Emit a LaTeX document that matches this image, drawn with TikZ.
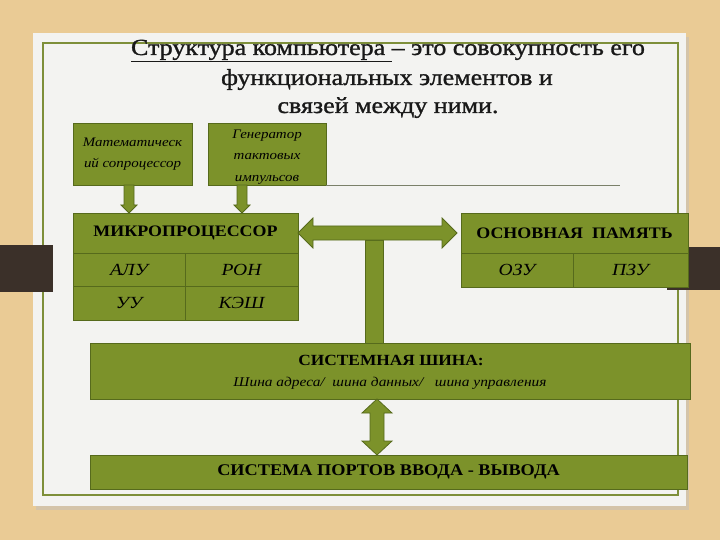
\documentclass[tikz,border=0pt]{standalone}
\usepackage{fontspec}
\setmainfont{Liberation Serif}
\newfontfamily\tfont[FakeStretch=1.12]{Liberation Serif}
\newfontfamily\ttlfont[FakeStretch=1.13, FakeBold=1.2]{Liberation Serif}
\newfontfamily\ifont[FakeStretch=1.15]{Liberation Serif}
\usetikzlibrary{calc}
\definecolor{wood}{HTML}{EACB95}
\definecolor{panel}{HTML}{F3F3F1}
\definecolor{frame}{HTML}{7E8F3A}
\definecolor{boxfill}{HTML}{7C922A}
\definecolor{boxline}{HTML}{566A1C}
\definecolor{darkbar}{HTML}{3B3029}
\definecolor{thinl}{HTML}{7A806A}
\tikzset{
  box/.style={draw=boxline, fill=boxfill, line width=0.8pt, inner sep=0pt, outer sep=0pt, anchor=north west, text=black},
  hdr/.style={font=\tfont\bfseries\fontsize{16}{18}\selectfont},
  cell/.style={font=\ifont\itshape\fontsize{17}{18}\selectfont},
  small/.style={font=\ifont\itshape\fontsize{13}{21.5}\selectfont, align=center},
  arr/.style={draw=boxline, fill=boxfill, line width=0.8pt, line join=miter},
  ttl/.style={font=\ttlfont\fontsize{23}{25}\selectfont, text=black!90, anchor=base}
}
\begin{document}
\begin{tikzpicture}[x=1pt,y=-1pt]
\useasboundingbox (0,0) rectangle (720,540);
% background and slide
\fill[wood] (0,0) rectangle (720,540);
\fill[black!25, opacity=0.5] (36,37) rectangle (689,510);
\fill[panel] (33,33) rectangle (686,506);
\draw[frame, line width=1.3pt] (43,43) rectangle (678,495);
\fill[darkbar] (0,245) rectangle (53,292);
\fill[darkbar] (667,247) rectangle (720,290);
% title
\node[ttl] (t1) at (388,55) {\underline{Структура компьютера\ }– это совокупность его};
\node[ttl] (t2) at (387,85) {функциональных элементов и};
\node[ttl] (t3) at (388,113) {связей между ними.};
% top boxes
\node[box, minimum width=119pt, minimum height=62pt] (math) at (73,123) {};
\node[small] at (math.center) {Математическ\\ий сопроцессор};
\node[box, minimum width=118pt, minimum height=62pt] (gen) at (208,123) {};
\node[small] at ($(gen.center)+(0,3)$) {Генератор\\тактовых\\импульсов};
\coordinate (lineend) at (620,185);
\draw[thinl, line width=0.7pt] (gen.south east) -- (lineend);
% microprocessor
\node[box, minimum width=225pt, minimum height=40pt, hdr] (mph) at (73,213) {МИКРОПРОЦЕССОР};
\node[box, minimum width=112pt, minimum height=33pt, cell] (alu) at (73,253) {АЛУ};
\node[box, minimum width=113pt, minimum height=33pt, cell] (ron) at (185,253) {РОН};
\node[box, minimum width=112pt, minimum height=34pt, cell] (uu) at (73,286) {УУ};
\node[box, minimum width=113pt, minimum height=34pt, cell] (kesh) at (185,286) {КЭШ};
% memory
\node[box, minimum width=227pt, minimum height=40pt, hdr] (memh) at (461,213) {ОСНОВНАЯ\ \ ПАМЯТЬ};
\node[box, minimum width=112pt, minimum height=34pt, cell] (ozu) at (461,253) {ОЗУ};
\node[box, minimum width=115pt, minimum height=34pt, cell] (pzu) at (573,253) {ПЗУ};
% bus and ports
\node[box, minimum width=600pt, minimum height=56pt] (bus) at (90,343) {};
\node[hdr, font=\tfont\bfseries\fontsize{15.5}{17}\selectfont] (bust) at (391,360) {СИСТЕМНАЯ ШИНА:};
\node[cell, font=\ifont\itshape\fontsize{13.4}{15}\selectfont] (busi) at (390,383) {Шина адреса/\ \ шина данных/\ \ \ шина управления};
\node[box, minimum width=597pt, minimum height=34pt, font=\tfont\bfseries\fontsize{16.3}{18}\selectfont] (ports) at (90,455) {СИСТЕМА ПОРТОВ ВВОДА - ВЫВОДА};
% down arrows
\coordinate (ax1) at (129,0);
\coordinate (ax2) at (242,0);
\foreach \c/\s in {ax1/math, ax2/gen}{
  \draw[arr] ($(\s.south -| \c)+(-5,0)$) -- ($(mph.north -| \c)+(-5,-8)$) -- ($(mph.north -| \c)+(-8,-8)$) -- (mph.north -| \c) -- ($(mph.north -| \c)+(8,-8)$) -- ($(mph.north -| \c)+(5,-8)$) -- ($(\s.south -| \c)+(5,0)$) -- cycle;
}
% vertical bar to bus
\coordinate (bx) at (374,0);
\draw[arr] ($(mph.east -| bx)+(-9,7)$) rectangle ($(bus.north -| bx)+(9,0)$);
% horizontal double arrow
\coordinate (R) at ($(memh.west)+(-4,0)$);
\draw[arr] (mph.east) -- ($(mph.east)+(15,-15)$) -- ($(mph.east)+(15,-7)$) -- ($(R)+(-15,-7)$) -- ($(R)+(-15,-15)$) -- (R) -- ($(R)+(-15,15)$) -- ($(R)+(-15,7)$) -- ($(mph.east)+(15,7)$) -- ($(mph.east)+(15,15)$) -- cycle;
% vertical double arrow bus <-> ports
\coordinate (vx) at (377,0);
\draw[arr] (bus.south -| vx) -- ($(bus.south -| vx)+(15,14)$) -- ($(bus.south -| vx)+(7,14)$) -- ($(ports.north -| vx)+(7,-14)$) -- ($(ports.north -| vx)+(15,-14)$) -- (ports.north -| vx) -- ($(ports.north -| vx)+(-15,-14)$) -- ($(ports.north -| vx)+(-7,-14)$) -- ($(bus.south -| vx)+(-7,14)$) -- ($(bus.south -| vx)+(-15,14)$) -- cycle;
\end{tikzpicture}
\end{document}
